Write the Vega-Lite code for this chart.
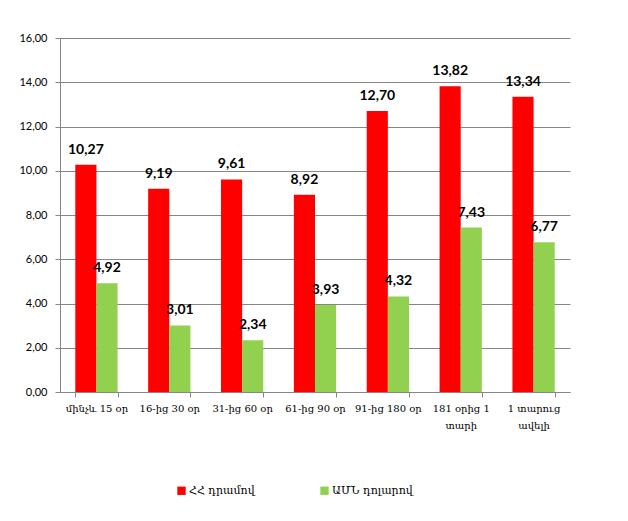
{
  "$schema": "https://vega.github.io/schema/vega-lite/v6.json",
  "width": 510,
  "height": 354,
  "autosize": {"type": "none"},
  "padding": {"left": 60, "top": 38, "right": 58, "bottom": 129},
  "background": "white",
  "data": {
    "values": [
      {"cat": "մինչև 15 օր", "ord": 1, "series": "ՀՀ դրամով", "s": 1, "v": 10.27},
      {"cat": "մինչև 15 օր", "ord": 1, "series": "ԱՄՆ դոլարով", "s": 2, "v": 4.92},
      {"cat": "16-ից 30 օր", "ord": 2, "series": "ՀՀ դրամով", "s": 1, "v": 9.19},
      {"cat": "16-ից 30 օր", "ord": 2, "series": "ԱՄՆ դոլարով", "s": 2, "v": 3.01},
      {"cat": "31-ից 60 օր", "ord": 3, "series": "ՀՀ դրամով", "s": 1, "v": 9.61},
      {"cat": "31-ից 60 օր", "ord": 3, "series": "ԱՄՆ դոլարով", "s": 2, "v": 2.34},
      {"cat": "61-ից 90 օր", "ord": 4, "series": "ՀՀ դրամով", "s": 1, "v": 8.92},
      {"cat": "61-ից 90 օր", "ord": 4, "series": "ԱՄՆ դոլարով", "s": 2, "v": 3.93},
      {"cat": "91-ից 180 օր", "ord": 5, "series": "ՀՀ դրամով", "s": 1, "v": 12.70},
      {"cat": "91-ից 180 օր", "ord": 5, "series": "ԱՄՆ դոլարով", "s": 2, "v": 4.32},
      {"cat": "181 օրից 1 տարի", "ord": 6, "series": "ՀՀ դրամով", "s": 1, "v": 13.82},
      {"cat": "181 օրից 1 տարի", "ord": 6, "series": "ԱՄՆ դոլարով", "s": 2, "v": 7.43},
      {"cat": "1 տարուց ավելի", "ord": 7, "series": "ՀՀ դրամով", "s": 1, "v": 13.34},
      {"cat": "1 տարուց ավելի", "ord": 7, "series": "ԱՄՆ դոլարով", "s": 2, "v": 6.77}
    ]
  },
  "encoding": {
    "x": {
      "field": "cat",
      "type": "nominal",
      "sort": ["մինչև 15 օր", "16-ից 30 օր", "31-ից 60 օր", "61-ից 90 օր", "91-ից 180 օր", "181 օրից 1 տարի", "1 տարուց ավելի"],
      "scale": {"paddingInner": 0.42, "paddingOuter": 0.21},
      "title": null,
      "axis": {
        "labelAngle": 0,
        "tickBand": "extent",
        "domainColor": "#868686",
        "tickColor": "#868686",
        "tickSize": 5,
        "labelFont": "DejaVu Serif",
        "labelFontSize": 10,
        "labelColor": "#000000",
        "labelPadding": 6,
        "labelLineHeight": 17,
        "labelExpr": "datum.label == '181 օրից 1 տարի' ? ['181 օրից 1', 'տարի'] : datum.label == '1 տարուց ավելի' ? ['1 տարուց', 'ավելի'] : datum.label"
      }
    },
    "xOffset": {"field": "s", "type": "ordinal", "scale": {"paddingInner": 0, "paddingOuter": 0}},
    "y": {
      "field": "v",
      "type": "quantitative",
      "scale": {"domain": [0, 16]},
      "title": null,
      "axis": {
        "values": [0, 2, 4, 6, 8, 10, 12, 14, 16],
        "labelExpr": "replace(format(datum.value, '.2f'), '.', ',')",
        "domainColor": "#868686",
        "tickColor": "#868686",
        "tickSize": 5,
        "gridColor": "#868686",
        "gridWidth": 1,
        "labelFont": "Lato",
        "labelFontSize": 11,
        "labelColor": "#000000",
        "labelPadding": 8
      }
    }
  },
  "layer": [
    {
      "mark": {"type": "bar"},
      "encoding": {
        "color": {
          "field": "series",
          "type": "nominal",
          "sort": ["ՀՀ դրամով", "ԱՄՆ դոլարով"],
          "scale": {"domain": ["ՀՀ դրամով", "ԱՄՆ դոլարով"], "range": ["#FF0000", "#92D050"]},
          "legend": {
            "title": null,
            "orient": "none",
            "legendX": 116,
            "legendY": 447,
            "direction": "horizontal",
            "columns": 2,
            "columnPadding": 64,
            "symbolType": "square",
            "symbolSize": 70,
            "symbolStrokeWidth": 0,
            "labelFont": "DejaVu Serif",
            "labelFontSize": 11,
            "labelColor": "#000000",
            "labelOffset": 2
          }
        }
      }
    },
    {
      "mark": {"type": "text", "baseline": "alphabetic", "dy": -11, "font": "Lato", "fontWeight": "bold", "fontSize": 14, "color": "#000000"},
      "encoding": {"text": {"field": "v", "type": "quantitative", "format": ".2f", "formatType": "number"}}
    }
  ],
  "config": {
    "view": {"stroke": null},
    "locale": {"number": {"decimal": ",", "thousands": " ", "grouping": [3], "currency": ["", ""]}}
  }
}
